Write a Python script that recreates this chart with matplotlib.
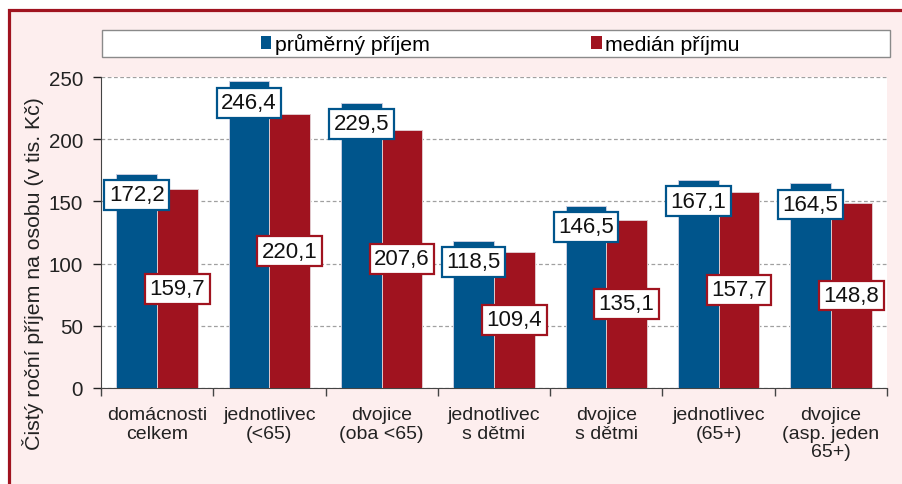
import matplotlib
matplotlib.use("Agg")
import matplotlib.pyplot as plt
from matplotlib.patches import Rectangle, Patch
import numpy as np

plt.rcParams['font.family'] = ['Liberation Sans', 'DejaVu Sans']

# data
categories = ['domácnosti\ncelkem', 'jednotlivec\n(<65)', 'dvojice\n(oba <65)',
              'jednotlivec\ns dětmi', 'dvojice\ns dětmi', 'jednotlivec\n(65+)',
              'dvojice\n(asp. jeden\n65+)']
mean_income = [172.2, 246.4, 229.5, 118.5, 146.5, 167.1, 164.5]
median_income = [159.7, 220.1, 207.6, 109.4, 135.1, 157.7, 148.8]
series_names = ['průměrný příjem', 'medián příjmu']
y_ticks = [0, 50, 100, 150, 200, 250]

blue = '#00558C'
red = '#A0131F'
pink = '#FDEEEE'

W, H = 903, 485
fig = plt.figure(figsize=(W / 100, H / 100), dpi=100)
fig.patch.set_facecolor('white')

# pink panel with dark red top/left border
panel = Rectangle((9.5 / W, -0.2), 1.3, (H - 11) / H + 0.2, transform=fig.transFigure,
                  facecolor=pink, edgecolor=red, linewidth=2.3, zorder=-10)
fig.add_artist(panel)

ax = fig.add_axes([101 / W, (H - 389) / H, (887 - 101) / W, (389 - 78) / H])
ax.set_facecolor('white')

x = np.arange(len(categories))
bw = 0.362
ax.bar(x - bw / 2, mean_income, bw, color=blue, edgecolor='#c8cde0', linewidth=0.7, zorder=3)
ax.bar(x + bw / 2, median_income, bw, color=red, edgecolor='#e0c8cc', linewidth=0.7, zorder=3)

# value labels: mean at inside end, median at centre
for xi, v in zip(x, mean_income):
    ax.text(xi - bw / 2, v - 17, f'{v:.1f}'.replace('.', ','), ha='center', va='center',
            fontsize=16, color='#111111', zorder=5,
            bbox=dict(boxstyle='square,pad=0.2', facecolor='white', edgecolor=blue, linewidth=1.6))
for xi, v in zip(x, median_income):
    ax.text(xi + bw / 2, v / 2, f'{v:.1f}'.replace('.', ','), ha='center', va='center',
            fontsize=16, color='#111111', zorder=5,
            bbox=dict(boxstyle='square,pad=0.2', facecolor='white', edgecolor=red, linewidth=1.6))

ax.set_xlim(-0.5, len(categories) - 0.5)
ax.set_ylim(0, 250)
ax.set_yticks(y_ticks)
ax.tick_params(axis='y', labelsize=14.8, colors='#222222', length=6, width=1, direction='out', pad=7)
ax.set_xticks(x)
ax.set_xticklabels(categories, fontsize=14, color='#222222', linespacing=1.12)
ax.tick_params(axis='x', length=0, pad=13)
ax.set_xticks(np.arange(-0.5, len(categories)), minor=True)
ax.tick_params(axis='x', which='minor', length=6, width=1, color='#444444')

ax.grid(axis='y', linestyle=(0, (3, 2)), color='#a0a0a0', linewidth=0.9, zorder=0)
ax.set_axisbelow(True)
for s in ['top', 'right']:
    ax.spines[s].set_visible(False)
ax.spines['left'].set_color('#444444')
ax.spines['bottom'].set_color('#444444')

fig.text(33 / W, 1 - 274 / H, 'Čistý roční příjem na osobu (v tis. Kč)', rotation=90,
         ha='center', va='center', fontsize=15.3, color='#222222')

# legend frame and entries
fig.add_artist(Rectangle((102 / W, (H - 58) / H), 788 / W, 27 / H, transform=fig.transFigure,
                         facecolor='white', edgecolor='#8a8a8a', linewidth=1))
handles = [Patch(facecolor=blue), Patch(facecolor=red)]
fig.legend(handles, series_names, loc='center', bbox_to_anchor=(500 / W, 1 - 44.5 / H),
           ncol=2, frameon=False, fontsize=15.3, handlelength=0.5, handleheight=0.6,
           handletextpad=0.15, columnspacing=7.6)

fig.savefig('out.png', dpi=100, facecolor=fig.get_facecolor())
